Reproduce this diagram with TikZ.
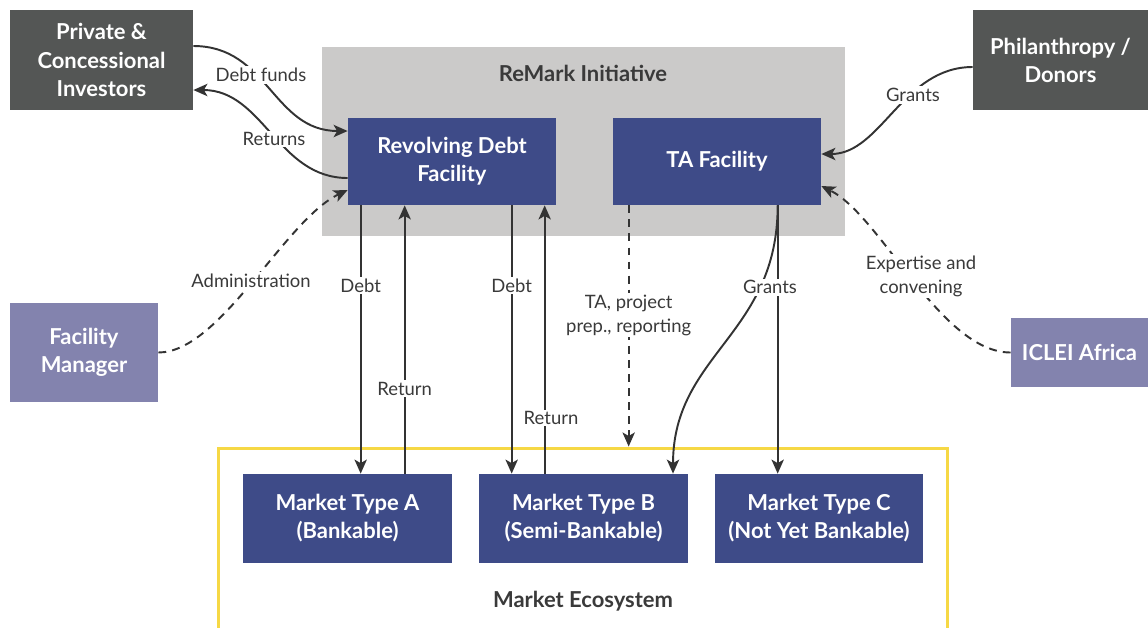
\documentclass[tikz,border=0pt]{standalone}
\usepackage{fontspec}
\setmainfont{Lato}
\usetikzlibrary{arrows.meta,calc}
\definecolor{darkbox}{HTML}{545655}
\definecolor{bluebox}{HTML}{3E4B88}
\definecolor{purplebox}{HTML}{8383AE}
\definecolor{remarkgray}{HTML}{CBCAC9}
\definecolor{ecoyellow}{HTML}{F6D845}
\definecolor{linegray}{HTML}{333333}
\definecolor{textgray}{HTML}{3A3A3A}

\begin{document}
\begin{tikzpicture}[x=0.02cm,y=-0.02cm,
   box/.style={fill=#1,text=white,font=\fontsize{12.5}{16}\selectfont\bfseries,align=center,inner sep=0pt},
   flow/.style={-{Stealth[length=8pt,width=7pt,inset=2pt]},draw=linegray,line width=1.1pt},
   softflow/.style={flow,dash pattern=on 4.5pt off 3.5pt},
   lbl/.style={fill=white,text=textgray,font=\fontsize{10.5}{13.6}\selectfont,align=center,inner sep=1pt},
   heading/.style={text=textgray,font=\fontsize{12.5}{16}\selectfont\bfseries}]
   \useasboundingbox (0,0) rectangle (1148,627);

   \node[fill=remarkgray,minimum width=10.46cm,minimum height=3.78cm] (remark) at (583.5,141.5) {};
   \node[heading] (remarktitle) at (583,73) {ReMark Initiative};
   \node[draw=ecoyellow,line width=1.7pt,minimum width=14.6cm,minimum height=4.24cm] (eco) at (583,554) {};
   \node[heading] (ecotitle) at (583,601) {Market Ecosystem};

   \node[box=darkbox,minimum width=3.66cm,minimum height=2cm] (pci) at (101.5,60) {Private \&\\Concessional\\Investors};
   \node[box=darkbox,minimum width=3.5cm,minimum height=2cm] (phd) at (1060.5,60) {Philanthropy /\\Donors};
   \node[box=bluebox,minimum width=4.16cm,minimum height=1.74cm] (rdf) at (452,161.5) {Revolving Debt\\Facility};
   \node[box=bluebox,minimum width=4.16cm,minimum height=1.74cm] (ta) at (717,161.5) {TA Facility};
   \node[box=purplebox,minimum width=2.96cm,minimum height=1.98cm] (fm) at (84,352.5) {Facility\\Manager};
   \node[box=purplebox,minimum width=2.74cm,minimum height=1.38cm] (iclei) at (1079.5,352.5) {ICLEI Africa};
   \node[box=bluebox,minimum width=4.18cm,minimum height=1.78cm] (ma) at (347.5,518.5) {Market Type A\\(Bankable)};
   \node[box=bluebox,minimum width=4.18cm,minimum height=1.78cm] (mb) at (583.5,518.5) {Market Type B\\(Semi-Bankable)};
   \node[box=bluebox,minimum width=4.18cm,minimum height=1.78cm] (mc) at (819,518.5) {Market Type C\\(Not Yet Bankable)};

   \coordinate (dA) at ($(rdf.south west)+(13,0)$);
   \coordinate (rA) at ($(rdf.south west)+(57,0)$);
   \coordinate (dB) at ($(rdf.south west)+(164,0)$);
   \coordinate (rB) at ($(rdf.south west)+(197,0)$);
   \coordinate (tap) at ($(ta.south west)+(16,0)$);
   \coordinate (grt) at ($(ta.south west)+(165,0)$);

   % funds in and out of the debt facility
   \draw[flow] ($(pci.east)+(0,-14)$) .. controls +(75,0) and +(-75,0) .. ($(rdf.west)+(0,-30.5)$);
   \draw[flow] ($(rdf.west)+(0,16.5)$) .. controls +(-70,0) and +(70,0) .. ($(pci.east)+(0,30)$);
   \draw[flow] ($(phd.west)+(0,7)$) .. controls +(-70,0) and +(60,0) .. ($(ta.east)+(0,-7.5)$);
   \draw[softflow] (iclei.west) .. controls +(-70,0) and +(60,30) .. ($(ta.east)+(0,24.5)$);
   \draw[softflow] (fm.east) .. controls +(62,0) and +(-63,30) .. ($(rdf.west)+(0,28.5)$);

   \draw[flow] (dA) -- (dA |- ma.north) node[lbl,pos=.3] (ldA) {Debt};
   \draw[flow] (rA |- ma.north) -- (rA) node[lbl,pos=.316] (lrA) {Return};
   \draw[flow] (dB) -- (dB |- mb.north) node[lbl,pos=.3] (ldB) {Debt};
   \draw[flow] (rB |- mb.north) -- (rB);
   \draw[softflow] (tap) -- (tap |- eco.north) node[lbl,pos=.456] (ltap) {TA, project\\prep., reporting};
   \draw[flow] (grt) .. controls +(0,130) and +(0,-120) .. ($(mb.north)+(89.5,0)$);
   \draw[flow] (grt) -- (grt |- mc.north);

   \node[lbl] (lrB) at (551,418) {Return};
   \node[lbl] (lgrt) at (770,287) {Grants};
   \node[lbl] (ldebtfunds) at (261,75) {Debt funds};
   \node[lbl] (lreturns) at (274,139) {Returns};
   \node[lbl] (lgrants) at (913,95) {Grants};
   \node[lbl] (lexpert) at (921,276) {Expertise and\\convening};
   \node[lbl] (ladmin) at (251,281) {Administration};
\end{tikzpicture}
\end{document}
